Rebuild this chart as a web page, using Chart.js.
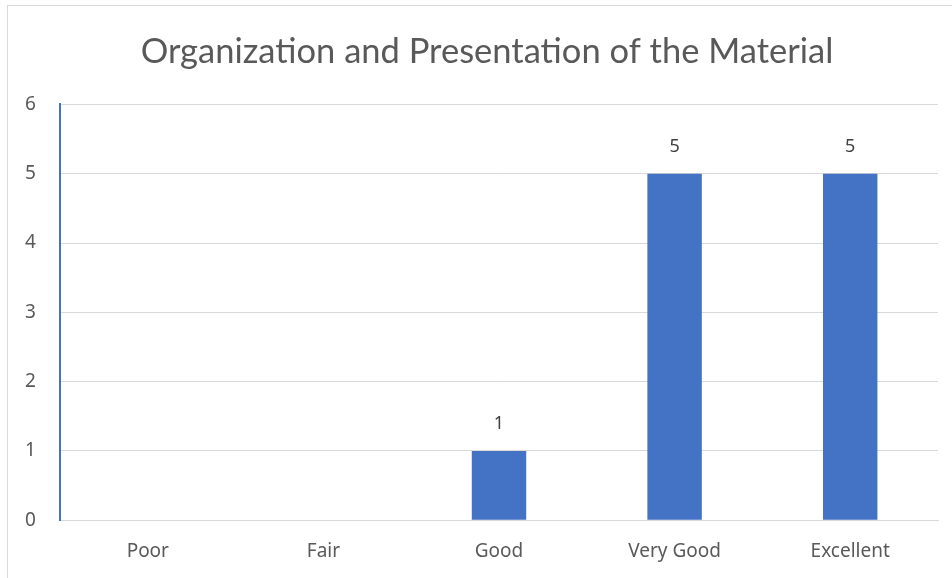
<!DOCTYPE html>
<html lang="en">
<head>
  <meta charset="UTF-8" />
  <title>Organization and Presentation of the Material</title>
  <script src="https://cdn.jsdelivr.net/npm/chart.js"></script>
  <style>
    body {
      margin: 0;
      background: #ffffff;
      overflow: hidden;
    }

    .frame {
      position: absolute;
      left: 7px;
      top: 5px;
      width: 980px;
      height: 620px;
      border: 1px solid #d9d9d9;
    }

    .chart-box {
      position: absolute;
      left: 0;
      top: 0;
      width: 952px;
      height: 578px;
    }
  </style>
</head>
<body>
  <div class="frame"></div>
  <div class="chart-box">
    <canvas id="ratingChart" width="952" height="578"></canvas>
  </div>

  <script>
    const categories = ['Poor', 'Fair', 'Good', 'Very Good', 'Excellent'];
    const responses = [0, 0, 1, 5, 5];
    const yTicks = [0, 1, 2, 3, 4, 5, 6];

    // draws the count above each bar, like the spreadsheet data labels
    const barLabels = {
      id: 'barLabels',
      afterDatasetsDraw(chart) {
        const ctx = chart.ctx;
        const meta = chart.getDatasetMeta(0);
        ctx.save();
        ctx.font = '18px "Noto Sans"';
        ctx.fillStyle = '#404040';
        ctx.textAlign = 'center';
        ctx.textBaseline = 'middle';
        meta.data.forEach((bar, i) => {
          if (!responses[i]) return;
          ctx.fillText(String(responses[i]), bar.x, bar.y - 27);
        });
        ctx.restore();
      }
    };

    new Chart(document.getElementById('ratingChart'), {
      type: 'bar',
      data: {
        labels: categories,
        datasets: [{
          data: responses,
          backgroundColor: '#4472c4',
          categoryPercentage: 1,
          barPercentage: 0.31
        }]
      },
      options: {
        responsive: false,
        animation: false,
        layout: {
          // wide left padding keeps the title centred like the original
          padding: { left: 36, right: 14, top: 0, bottom: 3 }
        },
        plugins: {
          legend: { display: false },
          tooltip: { enabled: false },
          title: {
            display: true,
            text: 'Organization and Presentation of the Material',
            color: '#595959',
            font: { family: 'Lato', size: 34.5, weight: 'normal' },
            padding: { top: 31, bottom: 32 }
          }
        },
        scales: {
          x: {
            grid: { display: false },
            border: { color: '#d9d9d9', width: 1 },
            ticks: {
              color: '#595959',
              font: { family: '"Noto Sans"', size: 19 },
              padding: 12
            }
          },
          y: {
            min: 0,
            max: 6,
            afterBuildTicks(scale) {
              scale.ticks = yTicks.map(v => ({ value: v }));
            },
            afterFit(scale) {
              scale.width = 24;
            },
            grid: { color: '#d9d9d9', drawTicks: false },
            border: { color: '#4472c4', width: 2 },
            ticks: {
              // mirrored labels are not clipped to the narrow scale box
              mirror: true,
              color: '#595959',
              font: { family: '"Noto Sans"', size: 19 },
              padding: -35
            }
          }
        }
      },
      plugins: [barLabels]
    });
  </script>
</body>
</html>
